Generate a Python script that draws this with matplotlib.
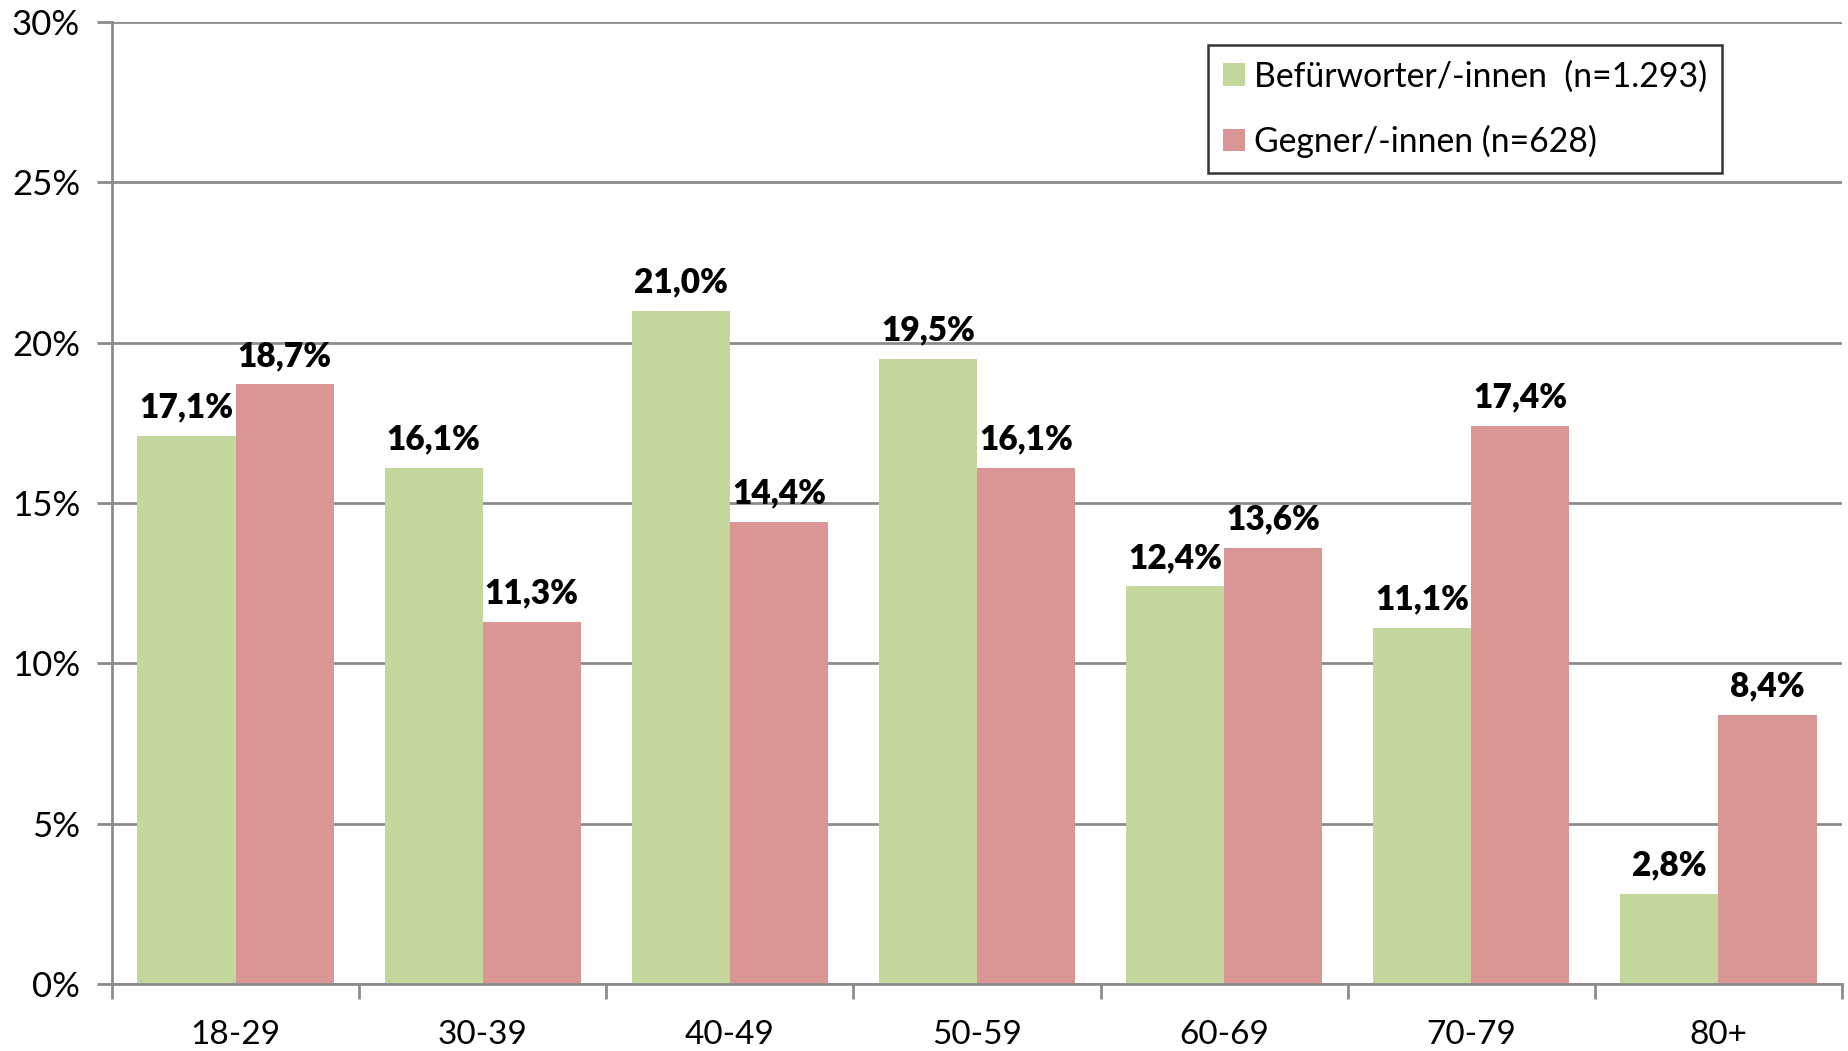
import numpy as np
import matplotlib
matplotlib.use("Agg")
import matplotlib.pyplot as plt
from matplotlib.ticker import PercentFormatter

plt.rcParams['font.family'] = ['Lato', 'DejaVu Sans']

age_groups = ["18-29", "30-39", "40-49", "50-59", "60-69", "70-79", "80+"]
befuerworter = [17.1, 16.1, 21.0, 19.5, 12.4, 11.1, 2.8]
gegner = [18.7, 11.3, 14.4, 16.1, 13.6, 17.4, 8.4]
series_labels = ["Befürworter/-innen  (n=1.293)", "Gegner/-innen (n=628)"]

green = "#C3D69B"
red = "#D99694"
grid_col = "#8C8C8C"

fig = plt.figure(figsize=(18.49, 10.51), dpi=100)
ax = fig.add_axes([112 / 1849, 1 - 984 / 1051, (1842 - 112) / 1849, (984 - 22) / 1051])

x = np.arange(len(age_groups))
w = 0.397
b1 = ax.bar(x - w / 2, befuerworter, w, color=green, label=series_labels[0], zorder=2)
b2 = ax.bar(x + w / 2, gegner, w, color=red, label=series_labels[1], zorder=2)

for bars, vals in ((b1, befuerworter), (b2, gegner)):
    for bar, v in zip(bars, vals):
        ax.annotate(f"{v:.1f}%".replace(".", ","),
                    (bar.get_x() + bar.get_width() / 2, v),
                    xytext=(0, 9), textcoords="offset points",
                    ha="center", va="bottom", fontsize=24, fontweight="heavy")

ax.set_xlim(-0.5, len(age_groups) - 0.5)
ax.set_ylim(0, 30)
ax.set_yticks(np.arange(0, 31, 5))
ax.yaxis.set_major_formatter(PercentFormatter(decimals=0))
ax.yaxis.grid(True, color=grid_col, linewidth=2, zorder=0)
ax.set_axisbelow(True)

ax.set_xticks(x)
ax.set_xticklabels(age_groups, fontsize=24)
ax.set_xticks(np.arange(-0.5, len(age_groups)), minor=True)
ax.tick_params(axis="x", which="major", length=0, pad=26)
ax.tick_params(axis="x", which="minor", length=11, width=2, color=grid_col, direction="out")
ax.tick_params(axis="y", length=11, width=2, color=grid_col, labelsize=25, pad=12)

for s in ("top", "right"):
    ax.spines[s].set_visible(False)
for s in ("left", "bottom"):
    ax.spines[s].set_color(grid_col)
    ax.spines[s].set_linewidth(2)

leg = ax.legend(loc="upper left", bbox_to_anchor=(1208 / 1849, 1 - 45 / 1051),
                bbox_transform=fig.transFigure, borderaxespad=0, fontsize=24.3,
                frameon=True, fancybox=False, edgecolor="black",
                handlelength=0.65, handleheight=0.65, handletextpad=0.25,
                labelspacing=0.95, borderpad=0.45)
leg.get_frame().set_linewidth(1.8)

fig.savefig("out.png", dpi=100)
